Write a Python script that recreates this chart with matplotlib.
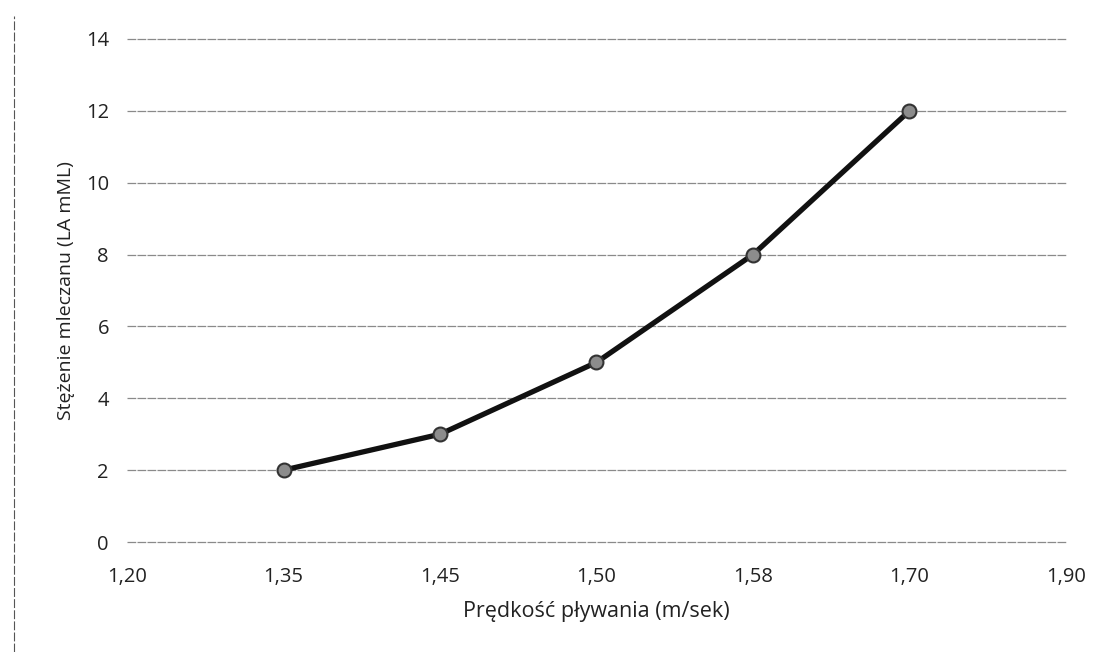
import matplotlib
matplotlib.use("Agg")
import matplotlib.pyplot as plt
from matplotlib.lines import Line2D

# dane z wykresu
predkosc = ["1,20", "1,35", "1,45", "1,50", "1,58", "1,70", "1,90"]
punkty_x = ["1,35", "1,45", "1,50", "1,58", "1,70"]
mleczan = [2, 3, 5, 8, 12]
y_ticks = [0, 2, 4, 6, 8, 10, 12, 14]

plt.rcParams['font.family'] = ['Open Sans', 'DejaVu Sans']

fig = plt.figure(figsize=(10.97, 6.52), dpi=100)
ax = fig.add_axes([0.1158, 0.1687, 0.8559, 0.7715])

pos = [predkosc.index(p) for p in punkty_x]
ax.plot(pos, mleczan, color='#111111', linewidth=3.8, marker='o',
        markersize=10, markerfacecolor='#8c8c8c', markeredgecolor='#333333',
        markeredgewidth=1.5, zorder=3)

ax.set_xlim(0, len(predkosc) - 1)
ax.set_ylim(0, 14)
ax.set_xticks(range(len(predkosc)))
ax.set_xticklabels(predkosc)
ax.set_yticks(y_ticks)
for y in y_ticks:
    ax.axhline(y, color='#8a8a8a', linewidth=0.9, linestyle=(0, (7, 1)),
               clip_on=False, zorder=1)
for s in ax.spines.values():
    s.set_visible(False)
ax.tick_params(length=0, labelsize=14.5, colors='#222222')
ax.tick_params(axis='x', pad=18)
ax.tick_params(axis='y', pad=13)

ax.set_xlabel('Prędkość pływania (m/sek)', fontsize=15.5, color='#222222', labelpad=10)
ax.set_ylabel('Stężenie mleczanu (LA mML)', fontsize=14, color='#222222', labelpad=8)

# krawedz skanu po lewej
fig.add_artist(Line2D([0.013, 0.013], [0.0, 0.975], color='#555555',
                      linewidth=0.8, linestyle=(0, (8, 2))))

fig.savefig('out.png', dpi=100)
